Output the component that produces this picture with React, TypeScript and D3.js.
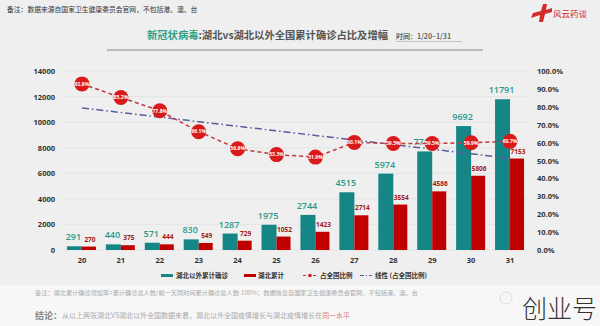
import React from "react";
import * as d3 from "d3";

const categories = ["20", "21", "22", "23", "24", "25", "26", "27", "28", "29", "30", "31"];
const outsideHubei = [291, 440, 571, 830, 1287, 1975, 2744, 4515, 5974, 7711, 9692, 11791];
const hubei = [270, 375, 444, 549, 729, 1052, 1423, 2714, 3554, 4586, 5806, 7153];
const ratio = [92.8, 85.2, 77.8, 66.1, 56.6, 53.3, 51.9, 60.1, 59.5, 59.5, 59.9, 60.7];
const leftTicks = [0, 2000, 4000, 6000, 8000, 10000, 12000, 14000];
const rightTicks = [0, 10, 20, 30, 40, 50, 60, 70, 80, 90, 100];

const TEAL = "#168585";
const RED = "#c00000";
const CJK = "'Noto Sans CJK SC', 'Noto Sans', sans-serif";

export default function App() {
  const W = 600, H = 326;
  const x = d3.scaleBand<string>().domain(categories).range([62.5, 529.5]);
  const y = d3.scaleLinear().domain([0, 14000]).range([250, 71]);
  const yr = d3.scaleLinear().domain([0, 100]).range([250, 71]);
  const cx = (c: string) => (x(c) as number) + x.bandwidth() / 2;

  // linear trendline (least squares) of ratio
  const idx = ratio.map((_, i) => i);
  const mx = d3.mean(idx) as number;
  const my = d3.mean(ratio) as number;
  const slope =
    (d3.sum(idx, (i) => (i - mx) * (ratio[i] - my)) as number) /
    (d3.sum(idx, (i) => (i - mx) * (i - mx)) as number);
  const trend = idx.map((i) => my + slope * (i - mx));

  const ratioLine = d3
    .line<number>()
    .x((_, i) => cx(categories[i]))
    .y((d) => yr(d));

  const bw = 15;

  return (
    <svg width={W} height={H} style={{ position: "absolute", left: 0, top: 0, fontFamily: CJK }}>
      <rect x={0} y={0} width={W} height={H} fill="#efefef" />
      <rect x={0} y={285} width={W} height={41} fill="#f7f7f7" />

      {/* top note */}
      <text x={7} y={12} fontSize={6.8} fill="#333">备注：数据来源自国家卫生健康委员会官网，不包括港、澳、台</text>

      {/* logo */}
      <g>
        <path d="M533,13 L541,11 L543,4 L547,4 L546,10 L552,8 L552,12 L545,14 L543,22 L539,22 L540,15 L531,18 Z" fill="#d42b2b" />
        <text x={553} y={17} fontSize={8.5} fill="#d42b2b">风云药谈</text>
      </g>

      {/* title */}
      <text x={147} y={39} fontSize={10.5} fontWeight="bold" textLength={241} lengthAdjust="spacingAndGlyphs">
        <tspan fill="#2e9e86">新冠状病毒</tspan>
        <tspan fill="#555">:湖北vs湖北以外全国累计确诊占比及增幅</tspan>
      </text>
      <text x={396} y={39} fontSize={7} fill="#666" fontWeight="bold">时间：1/20–1/31</text>
      <line x1={396} x2={462} y1={41.5} y2={41.5} stroke="#999" strokeWidth={0.5} />
      <line x1={107} x2={483} y1={50} y2={50} stroke="#888" strokeWidth={1} />

      {/* gridlines */}
      {leftTicks.map((t) => (
        <line key={t} x1={62} x2={530} y1={y(t)} y2={y(t)} stroke="#e2e2e2" strokeWidth={0.8} />
      ))}

      {/* left axis */}
      {leftTicks.map((t) => (
        <text key={t} x={55} y={y(t) + 3} fontSize={7.5} fontWeight="bold" fill="#333" textAnchor="end" fontFamily="'Open Sans', sans-serif">
          {t}
        </text>
      ))}
      {/* right axis */}
      {rightTicks.map((t) => (
        <text key={t} x={537} y={yr(t) + 3} fontSize={7.5} fontWeight="bold" fill="#333" fontFamily="'Open Sans', sans-serif">
          {t.toFixed(1)}%
        </text>
      ))}
      {/* x axis labels */}
      {categories.map((c) => (
        <text key={c} x={cx(c)} y={263} fontSize={7.5} fontWeight="bold" fill="#333" textAnchor="middle" fontFamily="'Open Sans', sans-serif">
          {c}
        </text>
      ))}

      {/* bars */}
      {categories.map((c, i) => (
        <g key={c}>
          <rect x={cx(c) - bw} y={y(outsideHubei[i])} width={bw} height={250 - y(outsideHubei[i])} fill={TEAL} />
          <rect x={cx(c)} y={y(hubei[i])} width={bw - 1} height={250 - y(hubei[i])} fill={RED} />
        </g>
      ))}

      {/* bar labels */}
      {categories.map((c, i) => (
        <g key={c}>
          <text x={cx(c) - bw / 2 - 1} y={y(outsideHubei[i]) - 6} fontSize={9} fill="#2a9a8a" textAnchor="middle" fontFamily="'Open Sans', sans-serif" fontWeight="600">
            {outsideHubei[i]}
          </text>
          <text x={cx(c) + 8} y={y(hubei[i]) - 5} fontSize={6.5} fill="#a01818" textAnchor="middle" fontFamily="'Open Sans', sans-serif" fontWeight="bold">
            {hubei[i]}
          </text>
        </g>
      ))}

      {/* trendline */}
      <path
        d={ratioLine(trend) as string}
        fill="none"
        stroke="#5a5a9c"
        strokeWidth={1.5}
        strokeDasharray="7,3,1.5,3"
      />
      {/* ratio line */}
      <path d={ratioLine(ratio) as string} fill="none" stroke="#c0393b" strokeWidth={1.5} strokeDasharray="4,3" />
      {categories.map((c, i) => (
        <g key={c}>
          <circle cx={cx(c)} cy={yr(ratio[i])} r={7.5} fill="#d91a1a" />
          <text x={cx(c)} y={yr(ratio[i]) + 1.8} fontSize={5} fill="#fff" fontWeight="bold" textAnchor="middle" fontFamily="'Open Sans', sans-serif">
            {ratio[i].toFixed(1)}%
          </text>
        </g>
      ))}

      {/* legend */}
      <g fontSize={6.5} fill="#333" fontWeight="bold">
        <rect x={161} y={274} width={12} height={3} fill={TEAL} />
        <text x={176} y={278}>湖北以外累计确诊</text>
        <rect x={244} y={274} width={12} height={3} fill={RED} />
        <text x={258} y={278}>湖北累计</text>
        <line x1={303} x2={316} y1={275.5} y2={275.5} stroke="#c0393b" strokeWidth={1.2} strokeDasharray="3,2" />
        <circle cx={310} cy={275.5} r={1.8} fill="#d91a1a" />
        <text x={320} y={278}>占全国比例</text>
        <line x1={360} x2={372} y1={275.5} y2={275.5} stroke="#5a5a9c" strokeWidth={1.2} strokeDasharray="4,2,1,2" />
        <text x={375} y={278}>线性 (占全国比例)</text>
      </g>

      {/* footer */}
      <text x={35} y={295} fontSize={6.2} fill="#aaa">
        备注：湖北累计确诊增加率=累计确诊总人数/前一天同时间累计确诊总人数-100%；数据信息自国家卫生健康委员会官网，不包括港、澳、台
      </text>
      <text x={35} y={319} fontSize={9} fill="#888" fontWeight="bold">结论：</text>
      <text x={62} y={318} fontSize={7} fill="#aaa">
        从以上两张湖北VS湖北以外全国数据来看，湖北以外全国疫情增长与湖北疫情增长在
        <tspan fill="#e07a7a">同一水平</tspan>
      </text>

      {/* watermark */}
      <circle cx={506} cy={298} r={6} fill="none" stroke="#ddd" strokeWidth={1} />
      <text x={522} y={318} fontSize={25} fill="#333" fontWeight="300">创业号</text>
    </svg>
  );
}
